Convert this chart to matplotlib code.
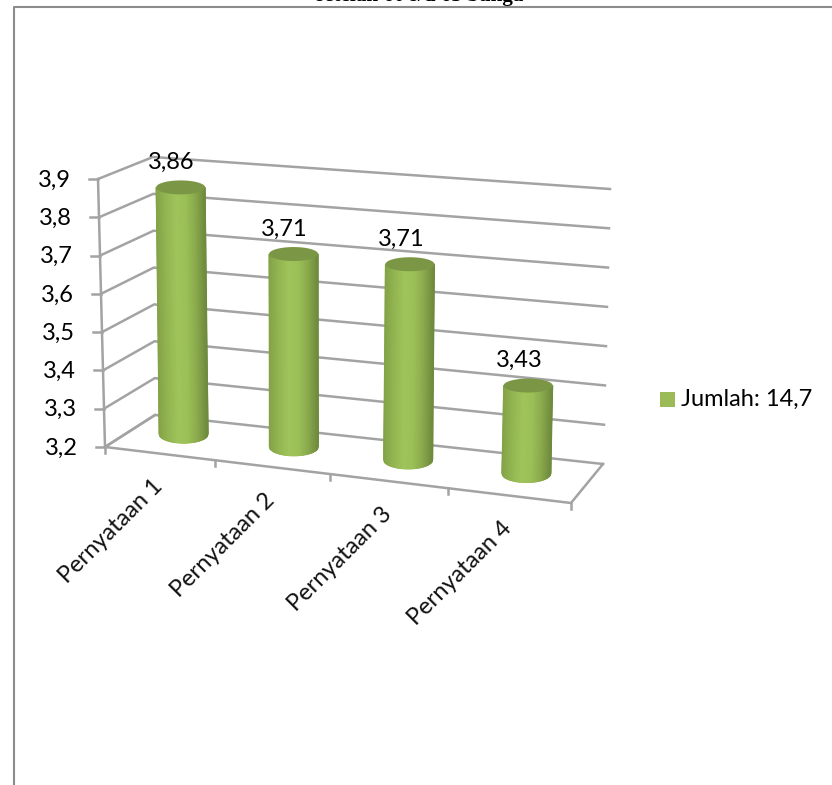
import numpy as np
import matplotlib
matplotlib.use("Agg")
import matplotlib.pyplot as plt
from matplotlib.colors import LinearSegmentedColormap
from matplotlib.patches import Polygon

categories = ["Pernyataan 1", "Pernyataan 2", "Pernyataan 3", "Pernyataan 4"]
values = [3.86, 3.71, 3.71, 3.43]
value_labels = ["3,86", "3,71", "3,71", "3,43"]
axis_ticks = [3.2, 3.3, 3.4, 3.5, 3.6, 3.7, 3.8, 3.9]
axis_tick_labels = ["3,2", "3,3", "3,4", "3,5", "3,6", "3,7", "3,8", "3,9"]
legend_label = "Jumlah: 14,7"
title_text = "setelah 60 s/d 65 bunga"

W, H = 832, 785
VMIN, VMAX = 3.2, 3.9
GRID = "#a3a3a3"
GRID_LW = 1.8
FONT = ["Lato", "DejaVu Sans"]
FS = 17

# Corners of the 3D plot box on the canvas
FLOOR = {"fl": (105, 447), "bl": (155, 415), "br": (603, 464), "fr": (571, 503)}
CEIL = {"fl": (98, 179), "bl": (153, 157), "br": (610, 189), "fr": (578, 220)}


def lerp(a, b, t):
    return (a[0] + (b[0] - a[0]) * t, a[1] + (b[1] - a[1]) * t)


def project(u, depth, v):
    """Map category position u (0-1), depth (0 front, 1 back) and value to the canvas."""
    u = u - 0.07 * u * (1 - u)
    def plane(c):
        return lerp(lerp(c["fl"], c["fr"], u), lerp(c["bl"], c["br"], u), depth)
    return lerp(plane(FLOOR), plane(CEIL), (v - VMIN) / (VMAX - VMIN))


fig = plt.figure(figsize=(W / 100, H / 100), dpi=100, facecolor="white")
ax = fig.add_axes([0, 0, 1, 1])
ax.set_xlim(0, W)
ax.set_ylim(H, 0)
ax.axis("off")

# Outer frame, open at the right and bottom edges
ax.plot([13.5, 13.5, W], [H, 6.5, 6.5], color="#8c8c8c", lw=1.5, zorder=1)

# Heading cut off by the top edge of the canvas
ax.text(420, 1, title_text, family="Liberation Serif", weight="bold", fontsize=15.2,
        ha="center", va="baseline", color="black", zorder=0)

# Gridlines on the side and back walls, plus the floor outline
for v in axis_ticks:
    pts = [project(0, 0, v), project(0, 1, v), project(1, 1, v)]
    ax.plot(*zip(*pts), color=GRID, lw=GRID_LW, solid_joinstyle="miter", zorder=2)
pts = [project(0, 1, VMIN), project(0, 0, VMIN), project(1, 0, VMIN), project(1, 1, VMIN)]
ax.plot(*zip(*pts), color=GRID, lw=GRID_LW, zorder=2)

# Vertical value axis with its tick marks and labels
ax.plot(*zip(project(0, 0, VMIN), project(0, 0, VMAX)), color=GRID, lw=GRID_LW, zorder=2)
for v, lab in zip(axis_ticks, axis_tick_labels):
    x, y = project(0, 0, v)
    ax.plot([x - 9, x], [y, y], color=GRID, lw=GRID_LW, zorder=2)
    ax.text(x - 27, y + 1, lab, family=FONT, fontsize=FS, ha="right", va="center", color="black")

# Category ticks and rotated labels along the front of the floor
for i in range(len(categories) + 1):
    x, y = project(i / len(categories), 0, VMIN)
    ax.plot([x, x], [y, y + 6], color=GRID, lw=GRID_LW, zorder=2)
for i, cat in enumerate(categories):
    x, y = project((i + 0.5) / len(categories), 0, VMIN)
    ax.text(x - 8, y + 22, cat, family=FONT, fontsize=FS, rotation=45, rotation_mode="anchor",
            ha="right", va="top", color="#111111")

# Cylinders shaded across their width
body_cmap = LinearSegmentedColormap.from_list(
    "body", ["#84a347", "#93b652", "#a0c45b", "#9cc058", "#8aaa4c", "#6e8a3d"])
BAR_HALF = 24.5
ELLIPSE = 9
BASE_LIFT = 3
for i, (val, lab) in enumerate(zip(values, value_labels)):
    u = (i + 0.5) / len(values)
    bx, by = project(u, 0.5, VMIN)
    tx, ty = project(u, 0.5, val)
    s = np.linspace(0, 1, 60)
    curve = np.sqrt(np.clip(1 - (2 * s - 1) ** 2, 0, 1))
    X = np.vstack([tx - BAR_HALF + 2 * BAR_HALF * s, bx - BAR_HALF + 2 * BAR_HALF * s])
    Y = np.vstack([np.full_like(s, ty), by - BASE_LIFT + ELLIPSE * curve])
    C = np.vstack([s, s])
    ax.pcolormesh(X, Y, C, cmap=body_cmap, shading="gouraud", zorder=3, vmin=0, vmax=1)
    th = np.linspace(0, 2 * np.pi, 80)
    ax.add_patch(Polygon(np.c_[tx + BAR_HALF * np.cos(th), ty + 7 * np.sin(th)],
                         closed=True, facecolor="#7b9745", edgecolor="none", zorder=4))
    ax.text(tx - 9, ty - 25, lab, family=FONT, fontsize=FS, ha="center", va="center",
            color="black", zorder=5)

# Legend
ax.add_patch(plt.Rectangle((660, 392), 15, 15, facecolor="#9bbb59", edgecolor="none", zorder=3))
ax.text(681, 399.5, legend_label, family=FONT, fontsize=FS, ha="left", va="center", color="black")

fig.savefig("out.png", dpi=100, facecolor="white")
